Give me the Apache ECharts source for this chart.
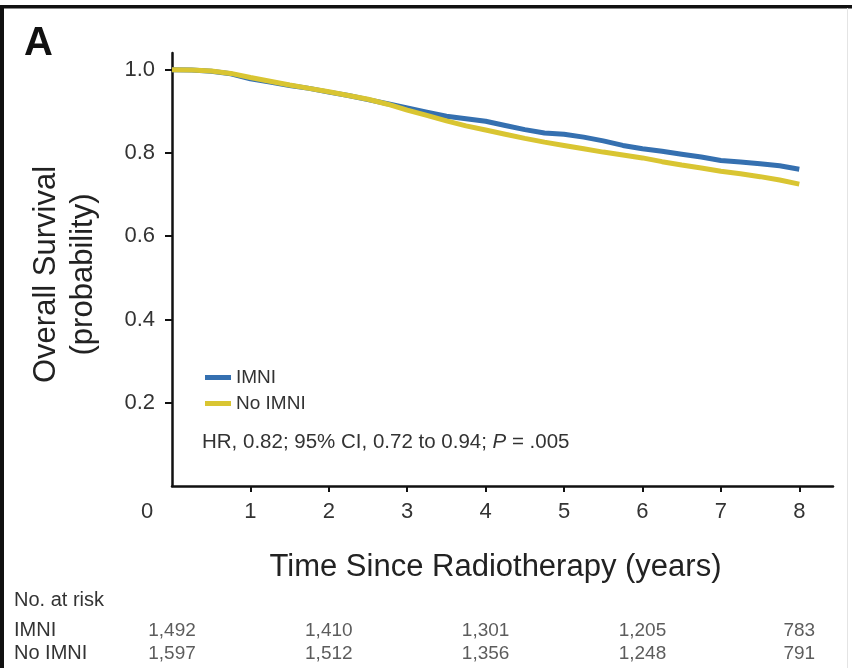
<!DOCTYPE html>
<html>
<head>
<meta charset="utf-8">
<script src="https://cdn.jsdelivr.net/npm/echarts@6/dist/echarts.min.js"></script>
<style>
  html, body { margin: 0; padding: 0; background: #fff; }
  #chart { width: 852px; height: 668px; }
</style>
</head>
<body>
<div id="chart"></div>
<script>
// Follow-up times (years) at which the survival estimates are sampled
var times = [0, 0.25, 0.5, 0.75, 1, 1.25, 1.5, 1.75, 2, 2.25, 2.5, 2.75, 3, 3.25, 3.5, 3.75, 4,
             4.25, 4.5, 4.75, 5, 5.25, 5.5, 5.75, 6, 6.25, 6.5, 6.75, 7, 7.25, 7.5, 7.75, 8];

// Overall survival probability, IMNI arm
var survIMNI = [1.000, 0.999, 0.996, 0.990, 0.978, 0.970, 0.962, 0.955, 0.946, 0.938, 0.928, 0.918, 0.908,
                0.898, 0.888, 0.882, 0.876, 0.866, 0.856, 0.848, 0.845, 0.838, 0.829, 0.818, 0.810,
                0.804, 0.797, 0.790, 0.782, 0.778, 0.774, 0.769, 0.761];

// Overall survival probability, No IMNI arm
var survNoIMNI = [1.000, 0.999, 0.997, 0.991, 0.981, 0.972, 0.963, 0.955, 0.947, 0.938, 0.929, 0.917, 0.903,
                  0.890, 0.877, 0.865, 0.855, 0.845, 0.835, 0.826, 0.818, 0.810, 0.802, 0.795, 0.788,
                  0.779, 0.771, 0.764, 0.756, 0.750, 0.743, 0.735, 0.725];

// Tick values
var xTicks = [1, 2, 3, 4, 5, 6, 7, 8];
var xLabels = [0, 1, 2, 3, 4, 5, 6, 7, 8];
var yTicks = [0.2, 0.4, 0.6, 0.8, 1.0];

// Numbers at risk
var riskGroups = ['IMNI', 'No IMNI'];
var riskTimes = [0, 2, 4, 6, 8];
var riskIMNI = [1492, 1410, 1301, 1205, 783];
var riskNoIMNI = [1597, 1512, 1356, 1248, 791];

var seriesNames = ['IMNI', 'No IMNI'];
var colors = ['#3570b0', '#d9c532'];

var FONT = "'Liberation Sans', Arial, sans-serif";
var GRID_LEFT = 172, GRID_RIGHT = 19;
var X_MAX = 8.43;

function pairs(xs, ys) {
  return xs.map(function (x, i) { return [x, ys[i]]; });
}
function riskPoints(row, counts) {
  return riskTimes.map(function (t, i) { return [t, row, counts[i]]; });
}

var chart = echarts.init(document.getElementById('chart'), null, { renderer: 'canvas' });

chart.setOption({
  animation: false,
  backgroundColor: '#ffffff',
  textStyle: { fontFamily: FONT },
  grid: [
    { left: GRID_LEFT, right: GRID_RIGHT, top: 53, height: 433 },
    { left: GRID_LEFT, right: GRID_RIGHT, top: 619, height: 46 }
  ],
  xAxis: [
    {
      gridIndex: 0, type: 'value', min: 0, max: X_MAX,
      name: 'Time Since Radiotherapy (years)',
      nameLocation: 'middle', nameGap: 66,
      nameTextStyle: { fontSize: 31, color: '#222', fontFamily: FONT, padding: [0, 14, 0, 0] },
      axisLine: { lineStyle: { color: '#111', width: 2.5 } },
      axisTick: { show: true, customValues: xTicks, length: 6, lineStyle: { color: '#111', width: 2 } },
      axisLabel: {
        customValues: xLabels, fontSize: 22, color: '#333', margin: 15,
        formatter: function (v) { return v === 0 ? '{z|0}' : String(v); },
        rich: { z: { fontSize: 22, color: '#333', padding: [0, 50, 0, 0] } }
      },
      splitLine: { show: false }
    },
    {
      gridIndex: 1, type: 'value', min: 0, max: X_MAX, show: false
    }
  ],
  yAxis: [
    {
      gridIndex: 0, type: 'value', min: 0, max: 1.04,
      name: 'Overall Survival\n(probability)',
      nameLocation: 'middle', nameRotate: 90, nameGap: 70,
      nameTextStyle: { fontSize: 31, lineHeight: 37, color: '#222', fontFamily: FONT, align: 'center', padding: [0, 10, 0, 0] },
      axisLine: { show: true, lineStyle: { color: '#111', width: 2.5 } },
      axisTick: { show: true, customValues: yTicks, length: 7, lineStyle: { color: '#111', width: 2 } },
      axisLabel: {
        customValues: yTicks, fontSize: 22, color: '#333', margin: 17,
        formatter: function (v) { return v.toFixed(1); }
      },
      splitLine: { show: false }
    },
    {
      gridIndex: 1, type: 'category', data: riskGroups, inverse: true,
      axisLine: { show: false }, axisTick: { show: false },
      axisLabel: { interval: 0, hideOverlap: false, align: 'left', margin: GRID_LEFT - 14, fontSize: 20, color: '#333' }
    }
  ],
  legend: {
    data: seriesNames,
    orient: 'vertical', left: 205, top: 368,
    icon: 'rect', itemWidth: 26, itemHeight: 5, itemGap: 7, padding: 0,
    textStyle: { fontSize: 19, color: '#333', padding: [0, 0, 0, 0] }
  },
  graphic: [
    // frame
    { type: 'rect', shape: { x: 0, y: 5, width: 852, height: 3.5 }, style: { fill: '#111' }, silent: true },
    { type: 'rect', shape: { x: 0, y: 5, width: 4, height: 663 }, style: { fill: '#111' }, silent: true },
    { type: 'rect', shape: { x: 847, y: 8, width: 1, height: 660 }, style: { fill: '#e4e4e4' }, silent: true },
    // panel letter
    { type: 'text', left: 24, top: 24, style: { text: 'A', font: "bold 40px 'Liberation Sans', Arial, sans-serif", fill: '#111' } },
    // hazard ratio note
    {
      type: 'text', left: 202, top: 432,
      style: {
        text: 'HR, 0.82; 95% CI, 0.72 to 0.94; {i|P} = .005',
        font: "20.5px 'Liberation Sans', Arial, sans-serif", fill: '#333',
        rich: { i: { fontStyle: 'italic', fontSize: 20.5, fill: '#333' } }
      }
    },
    // risk table heading
    { type: 'text', left: 14, top: 590, style: { text: 'No. at risk', font: "20px 'Liberation Sans', Arial, sans-serif", fill: '#333' } }
  ],
  series: [
    {
      name: seriesNames[0], type: 'line', xAxisIndex: 0, yAxisIndex: 0,
      data: pairs(times, survIMNI), showSymbol: false, symbol: 'none',
      lineStyle: { color: colors[0], width: 5 }, itemStyle: { color: colors[0] }, z: 3
    },
    {
      name: seriesNames[1], type: 'line', xAxisIndex: 0, yAxisIndex: 0,
      data: pairs(times, survNoIMNI), showSymbol: false, symbol: 'none',
      lineStyle: { color: colors[1], width: 5 }, itemStyle: { color: colors[1] }, z: 4
    },
    {
      type: 'scatter', xAxisIndex: 1, yAxisIndex: 1,
      data: riskPoints(riskGroups[0], riskIMNI).concat(riskPoints(riskGroups[1], riskNoIMNI)),
      symbolSize: 1, itemStyle: { color: 'rgba(0,0,0,0)' },
      label: {
        show: true, position: 'inside', fontSize: 19, color: '#333',
        formatter: function (p) { return p.value[2].toLocaleString('en-US'); }
      },
      silent: true
    }
  ]
});
</script>
</body>
</html>
